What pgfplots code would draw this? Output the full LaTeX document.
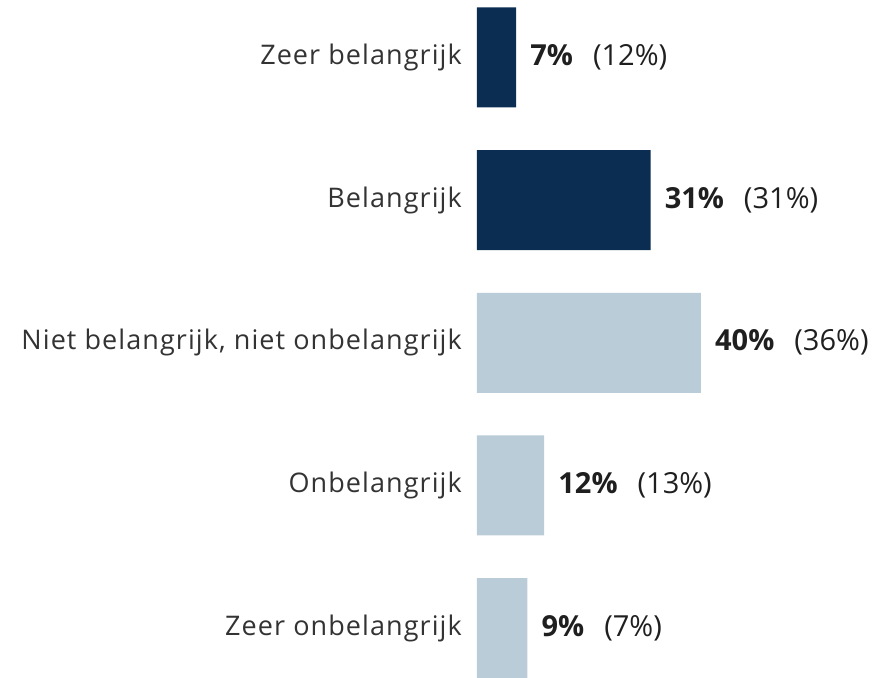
\documentclass[border=0pt]{standalone}
\usepackage{pgfplots}
\pgfplotsset{compat=1.18}
\usepackage{fontspec}
\setmainfont{Open Sans}
\newfontfamily\labfont[LetterSpace=4]{Open Sans}
\definecolor{navy}{HTML}{0B2D52}
\definecolor{lightb}{HTML}{BACCD8}
\definecolor{lab}{HTML}{333333}
\begin{document}
\begin{tikzpicture}
\useasboundingbox (0,0) rectangle (879pt,678pt);
\begin{axis}[
  at={(477pt,0pt)}, anchor=south west,
  scale only axis, width=402pt, height=678pt,
  xmin=0, xmax=71.8, ymin=-0.35, ymax=4.403,
  xbar, bar width=100pt, bar shift=0pt,
  hide x axis, axis line style={draw=none},
  /pgf/number format/assume math mode=true,
  ytick={0,1,2,3,4},
  yticklabels={Zeer onbelangrijk,Onbelangrijk,{Niet belangrijk, niet onbelangrijk},Belangrijk,Zeer belangrijk},
  major tick length=0pt,
  yticklabel style={font=\labfont\fontsize{27}{32}\selectfont, text=lab, inner sep=0pt, xshift=-15pt},
  clip=false,
  nodes near coords={\textbf{\pgfmathprintnumber[assume math mode=true]{\pgfplotspointmeta}\%}\hspace{20pt}(\pgfmathprintnumber[assume math mode=true]{\prev}\%)},
  nodes near coords style={font=\fontsize{29}{34}\selectfont, text=black!88, anchor=west, inner sep=0pt, xshift=14pt},
  visualization depends on={\thisrow{prev}\as\prev},
  point meta=explicit,
]
\addplot[fill=navy, draw=none] table[x=v, y=y, meta=v] {
y v prev
4 7 12
3 31 31
};
\addplot[fill=lightb, draw=none] table[x=v, y=y, meta=v] {
y v prev
2 40 36
1 12 13
0 9 7
};
\end{axis}
\end{tikzpicture}
\end{document}
